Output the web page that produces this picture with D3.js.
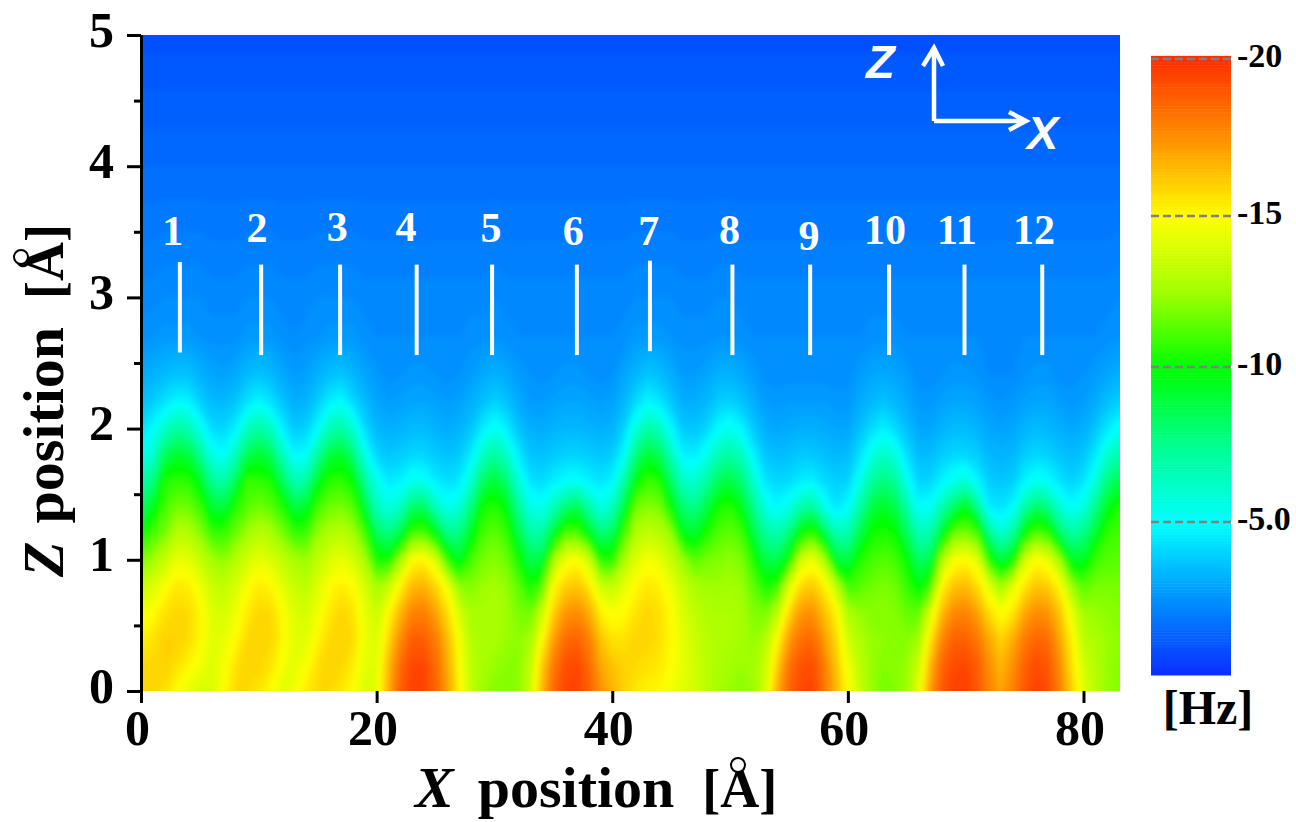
<!DOCTYPE html>
<html>
<head>
<meta charset="utf-8">
<script src="https://cdn.jsdelivr.net/npm/d3@7"></script>
<style>
  html, body { margin: 0; padding: 0; background: #fff; }
  text { font-family: "Liberation Serif", "Times New Roman", serif; font-weight: bold; fill: #000; }
  .axis path, .axis line { stroke: #000; stroke-width: 3px; }
  .axis text { font-size: 50px; }
</style>
</head>
<body>
<svg id="chart" width="1296" height="822"></svg>
<script>
// Sample positions of the scan [Angstrom]
const xPositions = [0,1,2,3,4,5,6,7,8,9,10,11,12,13,14,15,16,17,18,19,20,21,22,23,24,25,26,27,28,29,30,31,32,33,34,35,36,37,38,39,40,41,42,43,44,45,46,47,48,49,50,51,52,53,54,55,56,57,58,59,60,61,62,63,64,65,66,67,68,69,70,71,72,73,74,75,76,77,78,79,80,81,82,83.1];
const zPositions = [0,0.2,0.4,0.6,0.8,1,1.2,1.4,1.6,1.8,2,2.2,2.4,2.7,3,4,5];

// Frequency shift [Hz], one line per x position, bottom to top
const freqShift = [
  [-16,-15.8,-15.3,-14.6,-13.5,-11.8,-10,-8.4,-6.9,-5.3,-4.3,-3.6,-3.1,-2.5,-2.3,-1.6,-0.9],
  [-15.9,-15.9,-15.6,-15,-14,-12.6,-11.1,-9.5,-7.7,-6,-5,-3.9,-3.3,-2.6,-2.3,-1.6,-0.9],
  [-15.7,-16,-16,-15.6,-14.8,-13.4,-11.8,-11,-10.4,-8.4,-6.3,-4.4,-3.5,-2.7,-2.4,-1.6,-0.9],
  [-15,-15.7,-16,-15.9,-15.5,-14.4,-13.1,-11.8,-10.7,-9.2,-7.1,-4.9,-3.7,-2.7,-2.4,-1.6,-0.9],
  [-14.4,-15.2,-15.8,-15.8,-15.4,-14.3,-13,-11.7,-10.6,-9,-6.8,-4.8,-3.7,-2.7,-2.4,-1.6,-0.9],
  [-13.9,-14.7,-15.2,-15.2,-14.6,-13.5,-12.2,-10.9,-9.5,-7.5,-5.5,-4,-3.3,-2.6,-2.4,-1.6,-0.9],
  [-14,-14.1,-14.2,-14.1,-13.6,-12.6,-10.9,-9.2,-7.4,-5.5,-4.2,-3.5,-3,-2.5,-2.3,-1.6,-0.9],
  [-15,-14.7,-14.3,-13.9,-13.3,-12.2,-10.8,-8.9,-6.9,-5,-4.1,-3.4,-2.9,-2.5,-2.3,-1.6,-0.9],
  [-15.8,-15.6,-15,-14.5,-13.9,-13,-11.6,-10.5,-8.5,-6.5,-4.7,-3.7,-3.1,-2.5,-2.3,-1.6,-0.9],
  [-15.8,-16,-15.8,-15.4,-14.9,-13.8,-12.6,-11.3,-10.8,-8.6,-6.4,-4.4,-3.5,-2.7,-2.4,-1.6,-0.9],
  [-15.6,-15.9,-16,-15.9,-15.4,-14.4,-13.1,-11.8,-10.7,-9.2,-7.1,-4.9,-3.7,-2.7,-2.4,-1.6,-0.9],
  [-15,-15.6,-15.9,-15.8,-15.2,-14,-12.8,-11.4,-10.4,-8.5,-6.4,-4.4,-3.5,-2.7,-2.4,-1.6,-0.9],
  [-14.2,-14.8,-15.2,-15,-14.3,-13.3,-11.9,-10.5,-8.5,-6.5,-4.7,-3.7,-3.1,-2.5,-2.3,-1.6,-0.9],
  [-14.7,-14.3,-14.2,-14,-13.6,-12.7,-10.9,-8.9,-6.7,-4.8,-3.8,-3.2,-2.8,-2.4,-2.3,-1.6,-0.9],
  [-15.4,-14.8,-14.2,-13.8,-13.2,-12.4,-10.9,-9.3,-7.1,-5,-4,-3.3,-2.9,-2.5,-2.3,-1.6,-0.9],
  [-15.8,-15.7,-15.2,-14.6,-14.1,-13.3,-12.3,-11,-9.4,-7.2,-5,-3.9,-3.3,-2.6,-2.4,-1.6,-0.9],
  [-15.8,-16,-15.8,-15.5,-15,-14,-12.9,-11.7,-10.6,-8.9,-6.7,-4.7,-3.6,-2.7,-2.4,-1.6,-0.9],
  [-15.5,-15.9,-16,-15.9,-15.4,-14.4,-13.2,-11.9,-10.7,-9.3,-7.1,-5,-3.8,-2.7,-2.4,-1.6,-0.9],
  [-15,-15.4,-15.8,-15.6,-15,-13.9,-12.6,-11.3,-10,-8,-6,-4.2,-3.4,-2.7,-2.4,-1.6,-0.9],
  [-14,-14.3,-14.5,-14.4,-13.9,-12.7,-11.1,-9.1,-7.3,-5.5,-4.2,-3.5,-3,-2.5,-2.3,-1.6,-0.9],
  [-14.3,-14.2,-14,-13.5,-12.6,-10.3,-8.4,-6.5,-5.4,-4.1,-3.4,-3,-2.7,-2.4,-2.3,-1.6,-0.9],
  [-16.8,-16.5,-15.8,-15,-13.5,-10.2,-7.8,-5.7,-4.5,-3.7,-3.2,-2.8,-2.5,-2.4,-2.3,-1.6,-0.9],
  [-18.8,-18.4,-17.6,-16.6,-15.2,-12.6,-8.8,-6.4,-4.7,-3.9,-3.3,-2.9,-2.6,-2.4,-2.3,-1.6,-0.9],
  [-19.6,-19.4,-18.8,-17.8,-16.5,-15,-11.1,-8.3,-5.4,-4.1,-3.5,-3,-2.7,-2.4,-2.3,-1.6,-0.9],
  [-19.5,-19.4,-18.8,-17.9,-16.7,-15.2,-11.3,-8.4,-5.3,-4.1,-3.5,-3,-2.7,-2.4,-2.3,-1.6,-0.9],
  [-18.7,-18.5,-18,-17.1,-15.9,-14,-9.7,-6.6,-4.6,-3.8,-3.3,-2.9,-2.6,-2.4,-2.3,-1.6,-0.9],
  [-17.2,-16.9,-16.5,-15.7,-14.6,-10.8,-7.7,-5.3,-4.3,-3.6,-3.1,-2.8,-2.5,-2.4,-2.3,-1.6,-0.9],
  [-15.2,-15,-14.7,-13.9,-12.2,-9.4,-7.6,-5.9,-4.5,-3.8,-3.3,-2.9,-2.6,-2.4,-2.3,-1.6,-0.9],
  [-13.4,-13.3,-13,-12.7,-12,-11,-9.5,-7.8,-6,-4.6,-3.7,-3.2,-2.8,-2.5,-2.3,-1.6,-0.9],
  [-12.4,-12.6,-12.7,-12.7,-12.4,-11.8,-11,-10.2,-8.3,-6.4,-4.6,-3.6,-3.1,-2.5,-2.3,-1.6,-0.9],
  [-12,-12.4,-12.7,-12.8,-12.6,-12.1,-11.5,-10.6,-9.1,-7.2,-5.3,-4,-3.3,-2.6,-2.4,-1.6,-0.9],
  [-12,-12.2,-12.4,-12.5,-12.3,-11.7,-10.8,-9.8,-8.1,-6.4,-4.7,-3.7,-3.1,-2.5,-2.3,-1.6,-0.9],
  [-12.2,-12.2,-12.2,-11.9,-11.4,-10.3,-8.9,-7.4,-5.9,-4.6,-3.7,-3.1,-2.8,-2.4,-2.3,-1.6,-0.9],
  [-13.5,-13.2,-12.6,-11.6,-10.2,-8.6,-7.1,-5.6,-4.4,-3.7,-3.2,-2.8,-2.6,-2.4,-2.3,-1.6,-0.9],
  [-16.5,-16,-14.8,-13.4,-11.2,-8.9,-7.1,-5.3,-4.2,-3.6,-3.1,-2.8,-2.5,-2.4,-2.3,-1.6,-0.9],
  [-18.5,-18,-17.1,-16,-15,-12.6,-9.2,-6.6,-4.6,-3.8,-3.3,-2.9,-2.6,-2.4,-2.3,-1.6,-0.9],
  [-19.4,-19.2,-18.4,-17.3,-16,-14.6,-11.3,-8,-5,-4,-3.4,-3,-2.7,-2.4,-2.3,-1.6,-0.9],
  [-19.5,-19.4,-18.7,-17.6,-16.3,-15,-11.3,-8.7,-5.1,-4,-3.4,-3,-2.7,-2.4,-2.3,-1.6,-0.9],
  [-18.8,-18.5,-17.9,-16.9,-15.5,-13.8,-9.7,-7,-4.7,-3.9,-3.3,-2.9,-2.6,-2.4,-2.3,-1.6,-0.9],
  [-17.5,-17,-16.3,-15.3,-13.7,-10.5,-8,-5.6,-4.4,-3.7,-3.2,-2.8,-2.5,-2.4,-2.3,-1.6,-0.9],
  [-16.7,-16.3,-15.6,-14.8,-13.3,-10.6,-8.4,-6.4,-4.8,-3.9,-3.3,-2.9,-2.6,-2.4,-2.3,-1.6,-0.9],
  [-16,-16,-15.6,-15,-14.3,-12.8,-11,-9,-7,-5,-4,-3.4,-3,-2.5,-2.3,-1.6,-0.9],
  [-15.5,-15.8,-15.9,-15.6,-15.1,-14.1,-13,-11.7,-9.8,-7.8,-5.8,-4.2,-3.4,-2.7,-2.4,-1.6,-0.9],
  [-15.2,-15.7,-15.9,-15.9,-15.5,-14.8,-13.4,-12.1,-10.9,-9.1,-7.1,-4.9,-3.8,-2.7,-2.4,-1.6,-0.9],
  [-15.1,-15.5,-15.7,-15.7,-15.3,-14.4,-13.1,-11.9,-10.5,-8.5,-6.5,-4.5,-3.6,-2.7,-2.4,-1.6,-0.9],
  [-14.7,-15,-15.1,-15,-14.5,-13.5,-12.3,-10,-8.3,-6.6,-4.9,-3.8,-3.2,-2.6,-2.4,-1.6,-0.9],
  [-14.2,-14.3,-14.2,-14,-13.5,-12.3,-9.6,-8,-6.3,-4.7,-3.8,-3.2,-2.8,-2.5,-2.3,-1.6,-0.9],
  [-13.8,-13.8,-13.6,-13.3,-12.8,-11.3,-9.2,-7.6,-6,-4.6,-3.7,-3.2,-2.8,-2.5,-2.3,-1.6,-0.9],
  [-13.2,-13.2,-13.1,-12.9,-12.5,-11.8,-10.4,-8.8,-7.1,-5.4,-4.1,-3.4,-3,-2.5,-2.3,-1.6,-0.9],
  [-12.6,-12.8,-12.9,-12.8,-12.5,-12,-11.2,-10.3,-8.5,-6.7,-5,-3.9,-3.3,-2.6,-2.4,-1.6,-0.9],
  [-12.3,-12.6,-12.8,-12.8,-12.6,-12.2,-11.5,-10.6,-8.9,-7.1,-5.4,-4,-3.3,-2.6,-2.4,-1.6,-0.9],
  [-12.2,-12.4,-12.6,-12.6,-12.4,-11.9,-11,-9.6,-8,-6.4,-4.8,-3.7,-3.1,-2.5,-2.3,-1.6,-0.9],
  [-12.4,-12.5,-12.3,-12,-11.4,-10.4,-8.9,-7.5,-6.1,-4.7,-3.8,-3.2,-2.8,-2.4,-2.3,-1.6,-0.9],
  [-13.9,-13.6,-12.9,-11.8,-10.3,-8.7,-7.2,-5.6,-4.4,-3.7,-3.2,-2.8,-2.5,-2.4,-2.3,-1.6,-0.9],
  [-16.8,-16,-14.9,-13.2,-10.8,-8.6,-6.8,-4.9,-4.1,-3.5,-3,-2.7,-2.5,-2.4,-2.3,-1.6,-0.9],
  [-18.6,-18.2,-17.2,-15.8,-14,-10.2,-7.9,-5.6,-4.2,-3.6,-3.1,-2.8,-2.5,-2.4,-2.3,-1.6,-0.9],
  [-19.4,-19.1,-18.3,-17.3,-15.8,-13.8,-10,-6.9,-4.6,-3.8,-3.2,-2.8,-2.5,-2.4,-2.3,-1.6,-0.9],
  [-19.5,-19.3,-18.5,-17.5,-16.2,-14.6,-10.9,-7.4,-4.7,-3.8,-3.2,-2.8,-2.5,-2.4,-2.3,-1.6,-0.9],
  [-18.2,-18,-17.2,-16.4,-15.3,-12.8,-8.8,-5.5,-4.2,-3.6,-3.1,-2.8,-2.5,-2.4,-2.3,-1.6,-0.9],
  [-16.6,-16.2,-15.8,-15.2,-13.3,-9.1,-6.7,-4.5,-3.9,-3.4,-3,-2.7,-2.5,-2.4,-2.3,-1.6,-0.9],
  [-15,-14.6,-13.8,-12.8,-10.9,-8.8,-6.9,-5,-4,-3.5,-3,-2.7,-2.5,-2.4,-2.3,-1.6,-0.9],
  [-13.5,-13.2,-12.9,-12.3,-11.3,-10.4,-8.7,-7,-5.4,-4.3,-3.6,-3.1,-2.8,-2.4,-2.3,-1.6,-0.9],
  [-12.4,-12.4,-12.3,-12.1,-11.7,-11,-10.2,-8.8,-7.2,-5.6,-4.2,-3.4,-3,-2.5,-2.3,-1.6,-0.9],
  [-11.8,-12,-12.2,-12.2,-11.9,-11.3,-10.4,-9.4,-7.9,-6.3,-4.7,-3.7,-3.1,-2.5,-2.3,-1.6,-0.9],
  [-12,-12.1,-12.2,-12,-11.7,-11,-10.1,-8.8,-7.3,-5.8,-4.2,-3.4,-3,-2.5,-2.3,-1.6,-0.9],
  [-12.5,-12.4,-12,-11.5,-10.8,-10,-8.5,-7,-5.4,-4.3,-3.6,-3.1,-2.8,-2.4,-2.3,-1.6,-0.9],
  [-14.4,-13.6,-12.6,-11.4,-9.7,-8.2,-6.6,-5,-4,-3.5,-3,-2.7,-2.5,-2.4,-2.3,-1.6,-0.9],
  [-17.2,-16.6,-15.5,-14,-11,-8.7,-6.9,-5.2,-4.1,-3.5,-3,-2.7,-2.5,-2.4,-2.3,-1.6,-0.9],
  [-19,-18.6,-17.7,-16.5,-15.2,-13,-9.4,-6.9,-4.8,-3.9,-3.3,-2.9,-2.6,-2.4,-2.3,-1.6,-0.9],
  [-19.6,-19.3,-18.7,-17.7,-16.3,-14.8,-11.7,-8.4,-5.4,-4.1,-3.5,-3,-2.7,-2.4,-2.3,-1.6,-0.9],
  [-19.6,-19.4,-18.7,-17.8,-16.5,-15.1,-11.9,-9.6,-5.9,-4.1,-3.5,-3,-2.7,-2.4,-2.3,-1.6,-0.9],
  [-19,-18.8,-18.1,-17.1,-15.7,-14.2,-11.1,-7.5,-4.8,-3.9,-3.3,-2.9,-2.6,-2.4,-2.3,-1.6,-0.9],
  [-17.8,-17.5,-16.9,-15.7,-14.2,-10.5,-7.5,-4.6,-3.9,-3.4,-3,-2.7,-2.4,-2.4,-2.3,-1.6,-0.9],
  [-17,-16.6,-15.9,-14.9,-12.5,-8.9,-6,-4.4,-3.7,-3.3,-2.9,-2.6,-2.4,-2.4,-2.3,-1.6,-0.9],
  [-17.9,-17.5,-16.8,-15.5,-14.3,-10,-7.2,-4.9,-3.9,-3.4,-3,-2.7,-2.4,-2.4,-2.3,-1.6,-0.9],
  [-19,-18.7,-18,-16.9,-15.5,-13.8,-10,-7.1,-4.8,-3.9,-3.3,-2.9,-2.6,-2.4,-2.3,-1.6,-0.9],
  [-19.6,-19.3,-18.6,-17.6,-16.3,-15,-11.4,-8.4,-5.3,-4.1,-3.5,-3,-2.7,-2.4,-2.3,-1.6,-0.9],
  [-19.2,-19,-18.4,-17.4,-16.1,-14.4,-10.8,-7.7,-5,-4,-3.4,-3,-2.7,-2.4,-2.3,-1.6,-0.9],
  [-17.8,-17.5,-16.9,-16.2,-15,-12.5,-8.4,-5.9,-4.4,-3.7,-3.2,-2.8,-2.5,-2.4,-2.3,-1.6,-0.9],
  [-16,-15.6,-15.2,-14.4,-12.5,-9.3,-7.1,-5,-4,-3.5,-3,-2.7,-2.5,-2.4,-2.3,-1.6,-0.9],
  [-14.2,-13.8,-13.2,-12.5,-11.3,-9.4,-7.6,-5.7,-4.4,-3.7,-3.2,-2.8,-2.6,-2.4,-2.3,-1.6,-0.9],
  [-13.2,-13,-12.8,-12.4,-11.8,-10.8,-9.2,-7.5,-5.8,-4.5,-3.7,-3.1,-2.8,-2.4,-2.3,-1.6,-0.9],
  [-12.3,-12.4,-12.4,-12.2,-11.9,-11.3,-10.7,-9.5,-7.8,-6.1,-4.5,-3.6,-3,-2.5,-2.3,-1.6,-0.9],
  [-12,-12.1,-12.2,-12.1,-11.8,-11.4,-11,-10.5,-8.8,-7,-5.3,-4,-3.3,-2.6,-2.4,-1.6,-0.9]
];

// Ticks
const xTicks = [0,20,40,60,80];
const zTicks = [0,1,2,3,4,5];
const zMinorTicks = [0.5,1.5,2.5,3.5,4.5];
const barTicks = [-20,-15,-10,-5];
const barTickLabels = ["-20","-15","-10","-5.0"];

// Colour scale stops, Hz and colour
const shiftStops = [0,-2.5,-5,-7.5,-10,-12.5,-15,-17.5,-20];
const shiftColors = ["#0a2cff","#0090ff","#00ffff","#00ff90","#00ff00","#a0ff00","#ffff00","#ff9000","#ff3000"];

// Site markers above the surface
const siteNames = ["1","2","3","4","5","6","7","8","9","10","11","12"];
const siteX = [3.3,10.2,16.9,23.4,29.8,37,43.2,50.2,56.8,63.5,69.9,76.5];
const siteZTop = [3.27,3.25,3.25,3.25,3.25,3.25,3.28,3.25,3.25,3.25,3.25,3.25];
const siteZBottom = [2.58,2.56,2.56,2.56,2.56,2.56,2.59,2.56,2.56,2.56,2.56,2.56];
const siteLabelX = [2.7,9.85,16.65,22.5,29.7,36.7,43.1,49.95,56.7,63.15,69.25,75.8];
const siteLabelZ = [3.4,3.42,3.43,3.43,3.42,3.4,3.4,3.41,3.36,3.41,3.41,3.41];

const svg = d3.select("#chart");

const xScale = d3.scaleLinear().domain([0,83.1]).range([141,1120]);
const zScale = d3.scaleLinear().domain([0,5]).range([691,35]);
const color = d3.scaleLinear().domain(shiftStops).range(shiftColors);

const defs = svg.append("defs");
defs.append("clipPath").attr("id", "plot-clip").append("rect")
  .attr("x", xScale(0)).attr("y", zScale(5))
  .attr("width", xScale(83.1) - xScale(0)).attr("height", zScale(0) - zScale(5));
defs.append("filter").attr("id", "soften")
  .attr("filterUnits", "userSpaceOnUse")
  .attr("x", 100).attr("y", 0).attr("width", 1060).attr("height", 740)
  .append("feGaussianBlur").attr("stdDeviation", 2.4);

// Heat map as filled bands, grid indices mapped back onto the axes
const nx = xPositions.length, nz = zPositions.length;
const grid = new Array(nx * nz);
freqShift.forEach(function(col, i) {
  col.forEach(function(v, j) { grid[j * nx + i] = -v; });
});
const xIndex = d3.scaleLinear().domain(d3.range(nx)).range(xPositions.map(xScale));
const zIndex = d3.scaleLinear().domain(d3.range(nz)).range(zPositions.map(zScale));
const gridPath = d3.geoPath(d3.geoTransform({
  point: function(x, y) { this.stream.point(xIndex(x - 0.5), zIndex(y - 0.5)); }
}));
const levels = d3.range(0, 20, 0.2);
const bands = d3.contours().size([nx, nz]).thresholds(levels)(grid);

svg.append("g").attr("clip-path", "url(#plot-clip)")
  .append("g").attr("filter", "url(#soften)")
  .selectAll("path")
  .data(bands)
  .enter().append("path")
  .attr("d", gridPath)
  .attr("fill", function(d) { return color(-(d.value + 0.1)); })
  .attr("stroke", function(d) { return color(-(d.value + 0.1)); })
  .attr("stroke-width", 0.4);

// Axes
const xAxis = svg.append("g").attr("class", "axis")
  .attr("transform", "translate(0," + zScale(0) + ")")
  .call(d3.axisBottom(xScale).tickValues(xTicks).tickSize(12).tickSizeOuter(0).tickFormat(d3.format("d")));
xAxis.select(".domain").remove();
xAxis.selectAll("text").attr("y", 54).attr("dy", 0).attr("dx", -4).attr("text-anchor", "middle");

svg.append("g").attr("class", "axis")
  .attr("transform", "translate(" + xScale(0) + ",0)")
  .call(d3.axisLeft(zScale).tickValues(zMinorTicks).tickSize(7).tickSizeOuter(0).tickFormat(""));
const zAxis = svg.append("g").attr("class", "axis")
  .attr("transform", "translate(" + xScale(0) + ",0)")
  .call(d3.axisLeft(zScale).tickValues(zTicks).tickSize(14).tickSizeOuter(0).tickFormat(d3.format("d")));
zAxis.selectAll("text").attr("x", -27).attr("dy", 11);

// Axis titles, the ring of the Angstrom sign is drawn larger than the font's
const xTitle = svg.append("text").attr("x", 415).attr("y", 807).style("font-size", "58px");
xTitle.append("tspan").style("font-style", "italic").text("X");
xTitle.append("tspan").attr("dx", 24).text("position");
xTitle.append("tspan").attr("dx", 28).style("font-size", "54px").text("[Å]");
svg.append("circle").attr("cx", 738).attr("cy", 765).attr("r", 7)
  .attr("fill", "#fff").attr("stroke", "#000").attr("stroke-width", 2);

const zTitle = svg.append("text")
  .attr("transform", "translate(63,577) rotate(-90)")
  .style("font-size", "58px");
zTitle.append("tspan").style("font-style", "italic").text("Z");
zTitle.append("tspan").attr("dx", 18).text("position");
zTitle.append("tspan").attr("dx", 28).style("font-size", "54px").text("[Å]");
svg.append("circle").attr("cx", 21).attr("cy", 257).attr("r", 7)
  .attr("fill", "#fff").attr("stroke", "#000").attr("stroke-width", 2);

// Site markers
svg.append("g").selectAll("line")
  .data(siteX)
  .enter().append("line")
  .attr("x1", function(d) { return xScale(d); })
  .attr("x2", function(d) { return xScale(d); })
  .attr("y1", function(d, i) { return zScale(siteZTop[i]); })
  .attr("y2", function(d, i) { return zScale(siteZBottom[i]); })
  .attr("stroke", "#fff").attr("stroke-width", 4);
svg.append("g").selectAll("text")
  .data(siteNames)
  .enter().append("text")
  .attr("x", function(d, i) { return xScale(siteLabelX[i]); })
  .attr("y", function(d, i) { return zScale(siteLabelZ[i]); })
  .attr("text-anchor", "middle")
  .style("font-size", "42px").style("fill", "#fff")
  .text(function(d) { return d; });

// Direction arrows
const arrows = svg.append("g");
arrows.append("path")
  .attr("d", "M934,121V48M923,66L934,48L943,66M934,121H1026M1009,112L1026,121L1009,130")
  .attr("fill", "none").attr("stroke", "#fff").attr("stroke-width", 4.5);
arrows.append("text").attr("x", 866).attr("y", 78).text("Z")
  .style("font-family", "'Liberation Sans', Arial, sans-serif").style("font-style", "italic")
  .style("font-size", "47px").style("fill", "#fff");
arrows.append("text").attr("x", 1027).attr("y", 149).text("X")
  .style("font-family", "'Liberation Sans', Arial, sans-serif").style("font-style", "italic")
  .style("font-size", "47px").style("fill", "#fff");

// Colour bar
const barScale = d3.scaleLinear().domain([-20,-15,-10,-5,0]).range([59,216,367,522,675]);
const barSteps = d3.range(-20.1, 0, 0.1);
svg.append("g").selectAll("rect")
  .data(barSteps)
  .enter().append("rect")
  .attr("x", 1151).attr("width", 80)
  .attr("y", function(d) { return barScale(d); })
  .attr("height", function(d) { return barScale(d + 0.1) - barScale(d) + 0.5; })
  .attr("fill", function(d) { return color(Math.max(d, -20)); });
svg.append("g").selectAll("line")
  .data(barTicks)
  .enter().append("line")
  .attr("x1", 1151).attr("x2", 1231)
  .attr("y1", function(d) { return barScale(d); })
  .attr("y2", function(d) { return barScale(d); })
  .attr("stroke", "#808080").attr("stroke-width", 2.5).attr("stroke-dasharray", "8,4");
svg.append("g").selectAll("text")
  .data(barTicks)
  .enter().append("text")
  .attr("x", 1237)
  .attr("y", function(d) { return barScale(d) + 8; })
  .style("font-size", "34px")
  .text(function(d, i) { return barTickLabels[i]; });
svg.append("text").attr("x", 1208).attr("y", 724).attr("text-anchor", "middle")
  .style("font-size", "48px").text("[Hz]");
</script>
</body>
</html>
